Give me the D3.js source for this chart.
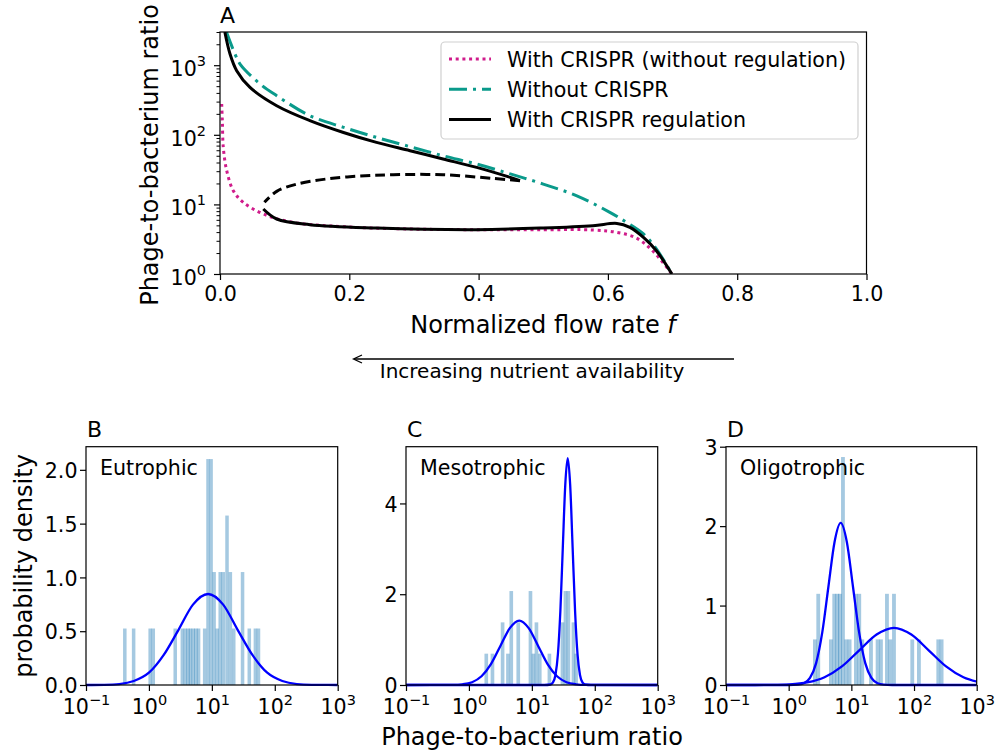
<!DOCTYPE html>
<html lang="en">
<head>
<meta charset="UTF-8">
<title>Phage-to-bacterium ratio</title>
<script src="https://d3js.org/d3.v7.min.js"></script>
<style>
  body { margin: 0; background: #fff; }
  svg text { font-family: "DejaVu Sans", sans-serif; fill: #000; }
</style>
</head>
<body>
<script>
// ---------- panel A: phage-to-bacterium ratio vs flow rate ----------
var fPink = [0.0026, 0.0036, 0.0051, 0.0104, 0.0206, 0.036, 0.067, 0.113, 0.191, 0.294, 0.397, 0.500, 0.577, 0.614, 0.644, 0.669, 0.699];
var ratioPink = [277, 160, 65.9, 30.5, 15.7, 10.7, 7.28, 5.51, 4.78, 4.43, 4.33, 4.33, 4.29, 3.96, 3.29, 2.16, 1.0];

var fTeal = [0.0100, 0.0232, 0.031, 0.062, 0.0877, 0.139, 0.191, 0.242, 0.294, 0.345, 0.397, 0.449, 0.500, 0.552, 0.603, 0.629, 0.655, 0.675, 0.699];
var ratioTeal = [3000, 1445, 1040, 537, 365, 188, 128, 91.8, 67.5, 50, 38, 27.4, 19.6, 13.3, 7.68, 5.51, 3.76, 2.29, 1.0];

var fUpper = [0.0075, 0.0155, 0.0258, 0.0464, 0.0877, 0.139, 0.191, 0.242, 0.294, 0.345, 0.397, 0.449, 0.464];
var ratioUpper = [3000, 1449, 834, 480, 262, 160, 108, 77.8, 59.1, 44.9, 34.0, 24.4, 21.9];

var fDashed = [0.464, 0.423, 0.345, 0.268, 0.217, 0.165, 0.119, 0.0877, 0.0687];
var ratioDashed = [21.9, 23.6, 26.7, 26.7, 25.6, 23.2, 19.6, 15.4, 10.7];

var fLower = [0.067, 0.0877, 0.139, 0.242, 0.397, 0.500, 0.577, 0.614, 0.634, 0.655, 0.675, 0.699];
var ratioLower = [8.59, 6.17, 5.11, 4.58, 4.34, 4.58, 4.94, 5.33, 4.68, 3.36, 2.16, 1.0];

var legendLabels = ["With CRISPR (without regulation)", "Without CRISPR", "With CRISPR regulation"];
var xTicksA = [0, 0.2, 0.4, 0.6, 0.8, 1.0];
var yMajorA = [1, 10, 100, 1000];
var yMinorA = [2, 3, 4, 5, 6, 7, 8, 9, 20, 30, 40, 50, 60, 70, 80, 90, 200, 300, 400, 500, 600, 700, 800, 900, 2000, 3000];

// ---------- panels B-D: histograms (log10 bin centres, density) ----------
var eutroBins = [-0.387, -0.247, 0.016, 0.065, 0.414, 0.527, 0.575, 0.618, 0.656, 0.699, 0.742, 0.785, 0.882, 0.935, 0.984, 1.032, 1.081, 1.129, 1.177, 1.237, 1.290, 1.344, 1.484, 1.591, 1.688, 1.737];
var eutroDens = [0.525, 0.525, 0.525, 0.525, 0.525, 0.525, 0.525, 0.525, 0.525, 0.525, 0.525, 0.525, 0.525, 2.1, 2.1, 1.05, 0.525, 1.05, 1.05, 1.575, 1.05, 0.525, 1.05, 0.525, 0.525, 0.525];

var mesoBins = [0.272, 0.370, 0.531, 0.616, 0.669, 0.780, 0.974, 1.021, 1.069, 1.122, 1.275, 1.482, 1.530, 1.577, 1.657, 1.699];
var mesoDens = [0.69, 0.69, 1.38, 0.69, 2.07, 1.38, 2.07, 0.69, 1.38, 0.69, 0.69, 1.38, 2.07, 2.07, 1.38, 0.69];

var oligoBins = [0.415, 0.468, 0.670, 0.723, 0.771, 0.814, 0.862, 0.915, 0.968, 1.069, 1.122, 1.170, 1.309, 1.415, 1.468, 1.564, 1.617, 1.676, 1.968, 2.074, 2.383, 2.436];
var oligoDens = [0.574, 1.148, 0.574, 1.148, 1.148, 1.148, 2.87, 0.574, 0.574, 1.148, 1.148, 0.574, 0.574, 0.574, 0.574, 1.148, 0.574, 1.148, 0.574, 0.574, 0.574, 0.574];

// fitted curves (log10 ratio, density)
var eutroCurveX = [-1, -0.71, -0.47, -0.24, 0.0, 0.23, 0.47, 0.70, 0.94, 1.18, 1.41, 1.65, 1.88, 2.12, 2.35, 2.59, 3];
var eutroCurveY = [0, 0.002, 0.009, 0.037, 0.114, 0.275, 0.513, 0.747, 0.846, 0.747, 0.513, 0.275, 0.114, 0.037, 0.009, 0.002, 0];

var mesoCurve1X = [-1, -0.25, -0.10, 0.05, 0.20, 0.35, 0.50, 0.65, 0.80, 0.95, 1.10, 1.25, 1.40, 1.55, 1.70, 1.85, 3];
var mesoCurve1Y = [0, 0.003, 0.016, 0.062, 0.192, 0.461, 0.861, 1.253, 1.42, 1.253, 0.861, 0.461, 0.192, 0.062, 0.016, 0.003, 0];
var mesoCurve2X = [-1, 1.20, 1.297, 1.336, 1.375, 1.414, 1.453, 1.492, 1.531, 1.570, 1.609, 1.648, 1.687, 1.726, 1.765, 1.804, 1.843, 1.94, 3];
var mesoCurve2Y = [0, 0, 0.011, 0.056, 0.22, 0.677, 1.624, 3.03, 4.41, 5.0, 4.41, 3.03, 1.624, 0.677, 0.22, 0.056, 0.011, 0, 0];

var oligoCurve1X = [-1, 0.0, 0.144, 0.242, 0.340, 0.438, 0.536, 0.634, 0.732, 0.830, 0.928, 1.026, 1.124, 1.222, 1.320, 1.418, 1.516, 1.65, 3];
var oligoCurve1Y = [0, 0, 0.005, 0.023, 0.09, 0.276, 0.662, 1.237, 1.80, 2.04, 1.80, 1.237, 0.662, 0.276, 0.09, 0.023, 0.005, 0, 0];
var oligoCurve2X = [-1, -0.813, -0.536, -0.259, 0.018, 0.295, 0.572, 0.849, 1.126, 1.403, 1.680, 1.957, 2.234, 2.511, 2.788, 3.065];
var oligoCurve2Y = [0, 0.00003, 0.0002, 0.0016, 0.008, 0.0316, 0.0974, 0.234, 0.437, 0.635, 0.72, 0.635, 0.437, 0.234, 0.0974, 0.0316];

var logTicks = [0.1, 1, 10, 100, 1000];

// ---------------------------------------------------------------
var width = 997, height = 753;
var tickFont = 20.6, labelFont = 24;
var svg = d3.select("body").append("svg")
    .attr("width", width).attr("height", height)
    .style("background", "white");

function zip(a, b) { return a.map(function (v, i) { return [v, b[i]]; }); }

function supLabels(sel, px) {
    sel.each(function (d) {
        var e = Math.round(Math.log10(d));
        var t = d3.select(this).text("10");
        t.append("tspan").attr("font-size", 14.5).attr("dy", -px)
            .text(e < 0 ? "\u2212" + (-e) : String(e));
    });
}

function frame(x0, y0, x1, y1) {
    svg.append("rect").attr("x", x0).attr("y", y0)
        .attr("width", x1 - x0).attr("height", y1 - y0)
        .attr("fill", "none").attr("stroke", "black").attr("stroke-width", 1.2);
}

function styleAxis(g) {
    g.attr("font-size", tickFont).attr("font-family", "DejaVu Sans");
    g.select(".domain").remove();
    g.selectAll(".tick line").attr("stroke-width", 1.2);
}

// ---------------- panel A ----------------
var xA = d3.scaleLinear().domain([0, 1]).range([220, 866.5]);
var yA = d3.scaleLog().domain([1, 3000]).range([274, 32]);

svg.append("clipPath").attr("id", "clipA").append("rect")
    .attr("x", 220).attr("y", 32).attr("width", 646.5).attr("height", 242);
var plotA = svg.append("g").attr("clip-path", "url(#clipA)");
var lineA = d3.line()
    .x(function (d) { return xA(d[0]); })
    .y(function (d) { return yA(d[1]); })
    .curve(d3.curveCatmullRom.alpha(0.5));

var pink = "#d01c8b", teal = "#0a9a8b";

plotA.append("path").attr("d", lineA(zip(fPink, ratioPink)))
    .attr("fill", "none").attr("stroke", pink).attr("stroke-width", 3)
    .attr("stroke-dasharray", "3,3.7");
plotA.append("path").attr("d", lineA(zip(fTeal, ratioTeal)))
    .attr("fill", "none").attr("stroke", teal).attr("stroke-width", 3)
    .attr("stroke-dasharray", "18,6,3,6");
plotA.append("path").attr("d", lineA(zip(fUpper, ratioUpper)))
    .attr("fill", "none").attr("stroke", "black").attr("stroke-width", 3);
plotA.append("path").attr("d", lineA(zip(fDashed, ratioDashed)))
    .attr("fill", "none").attr("stroke", "black").attr("stroke-width", 3)
    .attr("stroke-dasharray", "10,5");
plotA.append("path").attr("d", lineA(zip(fLower, ratioLower)))
    .attr("fill", "none").attr("stroke", "black").attr("stroke-width", 3);

frame(220, 32, 866.5, 274);

var gxA = svg.append("g").attr("transform", "translate(0,274)")
    .call(d3.axisBottom(xA).tickValues(xTicksA).tickFormat(d3.format(".1f")).tickSize(6).tickPadding(6));
styleAxis(gxA);

var gyAminor = svg.append("g").attr("transform", "translate(220,0)")
    .call(d3.axisLeft(yA).tickValues(yMinorA).tickFormat("").tickSize(3.5));
styleAxis(gyAminor);
gyAminor.selectAll(".tick line").attr("stroke-width", 1);
var gyA = svg.append("g").attr("transform", "translate(220,0)")
    .call(d3.axisLeft(yA).tickValues(yMajorA).tickSize(6).tickPadding(8));
styleAxis(gyA);
gyA.selectAll(".tick text").attr("dy", "0.5em").call(supLabels, 10);

svg.append("text").attr("x", 220).attr("y", 23).attr("font-size", 22).text("A");

var xl = svg.append("text").attr("x", 543).attr("y", 333).attr("font-size", labelFont)
    .attr("text-anchor", "middle").text("Normalized flow rate ");
xl.append("tspan").attr("font-style", "italic").text("f");

svg.append("text").attr("transform", "translate(158,155) rotate(-90)")
    .attr("font-size", labelFont).attr("text-anchor", "middle").text("Phage-to-bacterium ratio");

// legend
var lg = svg.append("g");
lg.append("rect").attr("x", 441).attr("y", 42).attr("width", 417).attr("height", 97)
    .attr("rx", 4).attr("fill", "white").attr("fill-opacity", 0.8)
    .attr("stroke", "#d0d0d0").attr("stroke-width", 1.2);
var legStyles = [
    { c: pink, dash: "3,3.7" },
    { c: teal, dash: "18,6,3,6" },
    { c: "black", dash: null }
];
legendLabels.forEach(function (lab, i) {
    var y = 59 + i * 30.2;
    lg.append("line").attr("x1", 449).attr("x2", 491).attr("y1", y).attr("y2", y)
        .attr("stroke", legStyles[i].c).attr("stroke-width", 3)
        .attr("stroke-dasharray", legStyles[i].dash);
    lg.append("text").attr("x", 507).attr("y", y + 7.5).attr("font-size", tickFont).text(lab);
});

// arrow
svg.append("line").attr("x1", 734).attr("x2", 354).attr("y1", 359).attr("y2", 359)
    .attr("stroke", "black").attr("stroke-width", 1.3);
svg.append("path").attr("d", "M362,355 L353.5,359 L362,363")
    .attr("fill", "none").attr("stroke", "black").attr("stroke-width", 1.3);
svg.append("text").attr("x", 532).attr("y", 378).attr("font-size", 20)
    .attr("text-anchor", "middle").text("Increasing nutrient availability");

// ---------------- panels B-D ----------------
var panels = [
    { key: "B", name: "Eutrophic", x0: 86, x1: 337.7, ymax: 2.215, yt: [0, 0.5, 1, 1.5, 2], fmt: ".1f",
      bins: eutroBins, dens: eutroDens, bw: 0.048,
      curves: [[eutroCurveX, eutroCurveY]] },
    { key: "C", name: "Mesotrophic", x0: 406, x1: 657.7, ymax: 5.25, yt: [0, 2, 4], fmt: "d",
      bins: mesoBins, dens: mesoDens, bw: 0.05,
      curves: [[mesoCurve1X, mesoCurve1Y], [mesoCurve2X, mesoCurve2Y]] },
    { key: "D", name: "Oligotrophic", x0: 726, x1: 976.7, ymax: 3.0, yt: [0, 1, 2, 3], fmt: "d",
      bins: oligoBins, dens: oligoDens, bw: 0.053,
      curves: [[oligoCurve1X, oligoCurve1Y], [oligoCurve2X, oligoCurve2Y]] }
];
var axTop = 446.7, axBottom = 685;

panels.forEach(function (p) {
    var x = d3.scaleLog().domain([0.1, 1000]).range([p.x0, p.x1]);
    var y = d3.scaleLinear().domain([0, p.ymax]).range([axBottom, axTop]);

    svg.append("clipPath").attr("id", "clip" + p.key).append("rect")
        .attr("x", p.x0).attr("y", axTop - 2).attr("width", p.x1 - p.x0).attr("height", axBottom - axTop + 4);
    var g = svg.append("g").attr("clip-path", "url(#clip" + p.key + ")");

    g.selectAll("rect.bar").data(zip(p.bins, p.dens)).enter().append("rect")
        .attr("class", "bar")
        .attr("x", function (d) { return x(Math.pow(10, d[0] - p.bw / 2)); })
        .attr("width", function (d) { return x(Math.pow(10, d[0] + p.bw / 2)) - x(Math.pow(10, d[0] - p.bw / 2)) + 0.5; })
        .attr("y", function (d) { return y(d[1]); })
        .attr("height", function (d) { return axBottom - y(d[1]); })
        .attr("fill", "#1f77b4").attr("fill-opacity", 0.4);

    frame(p.x0, axTop, p.x1, axBottom);

    var line = d3.line()
        .x(function (d) { return x(Math.pow(10, d[0])); })
        .y(function (d) { return y(Math.max(0, d[1])); })
        .curve(d3.curveMonotoneX);
    p.curves.forEach(function (c) {
        g.append("path").attr("d", line(zip(c[0], c[1])))
            .attr("fill", "none").attr("stroke", "#0000ff").attr("stroke-width", 2.3);
    });

    var gx = svg.append("g").attr("transform", "translate(0," + axBottom + ")")
        .call(d3.axisBottom(x).tickValues(logTicks).tickSize(6).tickPadding(8));
    styleAxis(gx);
    gx.selectAll(".tick text").call(supLabels, 9).attr("dy", "0.73em");

    var gy = svg.append("g").attr("transform", "translate(" + p.x0 + ",0)")
        .call(d3.axisLeft(y).tickValues(p.yt).tickFormat(d3.format(p.fmt)).tickSize(6).tickPadding(2.5));
    styleAxis(gy);
    gy.selectAll(".tick text").attr("dy", "0.37em");

    svg.append("text").attr("x", p.x0 + 1).attr("y", axTop - 9.5).attr("font-size", 22).text(p.key);
    svg.append("text").attr("x", p.x0 + 14).attr("y", axTop + 28).attr("font-size", 20.6).text(p.name);
});

svg.append("text").attr("transform", "translate(32,566) rotate(-90)")
    .attr("font-size", labelFont).attr("text-anchor", "middle").text("probability density");
svg.append("text").attr("x", 532).attr("y", 745).attr("font-size", labelFont)
    .attr("text-anchor", "middle").text("Phage-to-bacterium ratio");
</script>
</body>
</html>
